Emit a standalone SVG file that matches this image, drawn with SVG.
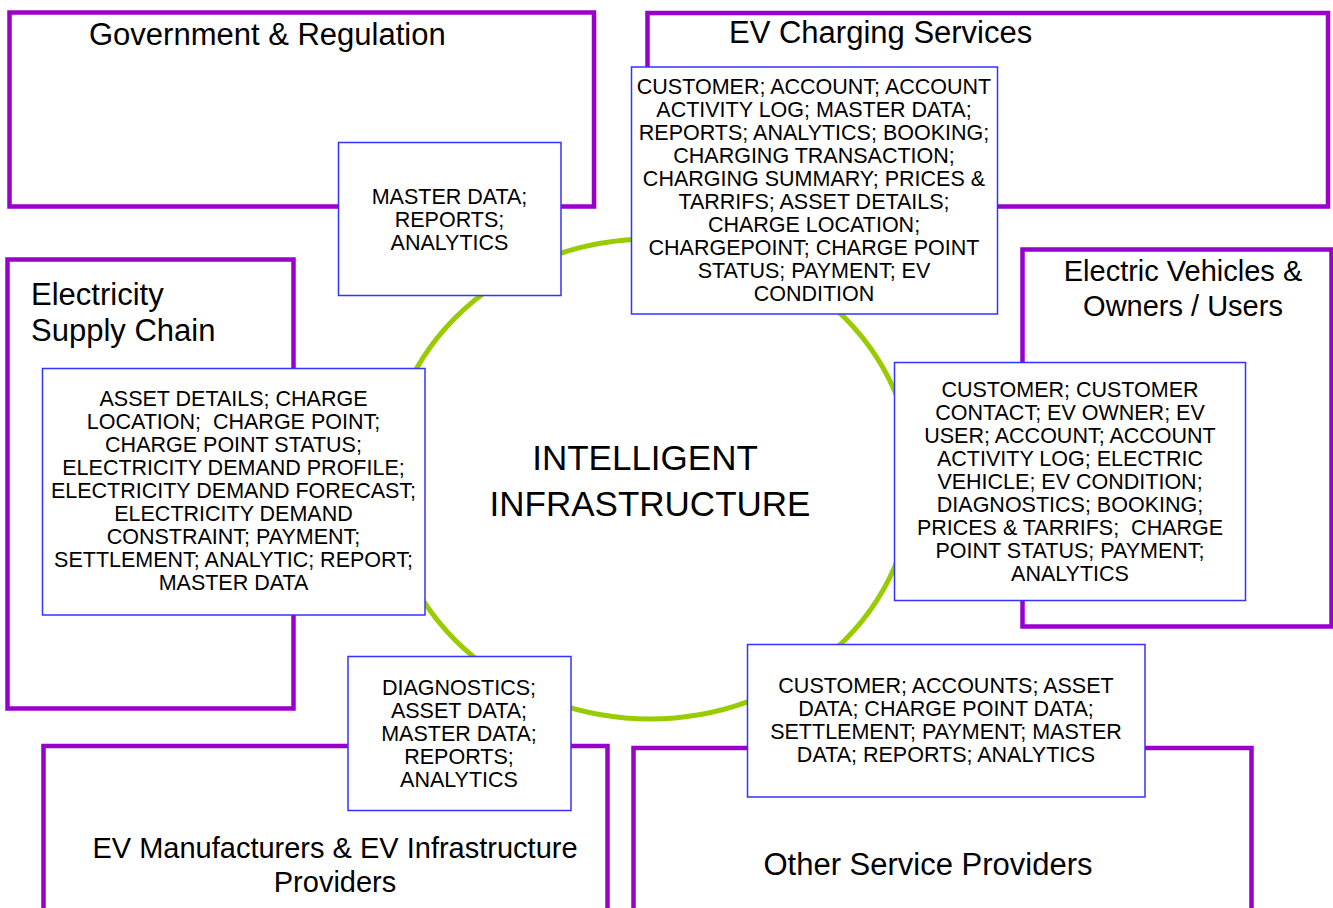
<svg xmlns="http://www.w3.org/2000/svg" width="1333" height="908" viewBox="0 0 1333 908">
<style>
.grp{fill:#fff;stroke:#9900cc;stroke-width:4.5}
.data{fill:#fff;stroke:#3333ff;stroke-width:1.5}
.title{font-family:"Liberation Sans",Arial,sans-serif;font-size:31px;fill:#000}
.t29{font-size:29px}
.dt{font-family:"Liberation Sans",Arial,sans-serif;font-size:21.5px;fill:#000;text-anchor:middle;white-space:pre}
.center{font-family:"Liberation Sans",Arial,sans-serif;font-size:35px;fill:#000;text-anchor:middle}
.ring{fill:none;stroke:#99cc00;stroke-width:5}
</style>
<rect width="1333" height="908" fill="#fff"/>
<g id="government">
<rect class="grp" x="9.5" y="12.5" width="584.5" height="194"/>
<text class="title" x="89" y="45">Government &amp; Regulation</text>
</g>
<g id="ev-charging-services">
<rect class="grp" x="647.5" y="13" width="680.5" height="193.5"/>
<text class="title" x="729" y="43">EV Charging Services</text>
</g>
<g id="electric-vehicles">
<rect class="grp" x="1022.5" y="249.5" width="309" height="377"/>
<text class="title t29" x="1183" y="281" text-anchor="middle">Electric Vehicles &amp;</text>
<text class="title t29" x="1183" y="316" text-anchor="middle">Owners / Users</text>
</g>
<g id="electricity-supply-chain">
<rect class="grp" x="7.5" y="259.5" width="286" height="449"/>
<text class="title" x="31" y="305">Electricity</text>
<text class="title" x="31" y="341">Supply Chain</text>
</g>
<g id="ev-manufacturers">
<rect class="grp" x="43.5" y="746" width="564" height="166"/>
<text class="title t29" x="335" y="858" text-anchor="middle">EV Manufacturers &amp; EV Infrastructure</text>
<text class="title t29" x="335" y="892" text-anchor="middle">Providers</text>
</g>
<g id="other-service-providers">
<rect class="grp" x="633.5" y="748" width="618" height="164"/>
<text class="title" x="928" y="875" text-anchor="middle">Other Service Providers</text>
</g>
<g id="connectors">
<ellipse class="ring" cx="650" cy="479" rx="263" ry="240"/>
</g>
<g id="intelligent-infrastructure">
<text class="center" x="645" y="470">INTELLIGENT</text>
<text class="center" x="650" y="516">INFRASTRUCTURE</text>
</g>
<g id="data-government">
<rect class="data" x="338.5" y="142.5" width="222.5" height="153"/>
<text class="dt" x="449.5" y="204">MASTER DATA;</text>
<text class="dt" x="449.5" y="227">REPORTS;</text>
<text class="dt" x="449.5" y="250">ANALYTICS</text>
</g>
<g id="data-charging">
<rect class="data" x="631.5" y="67" width="366" height="247"/>
<text class="dt" x="814" y="94">CUSTOMER; ACCOUNT; ACCOUNT</text>
<text class="dt" x="814" y="117">ACTIVITY LOG; MASTER DATA;</text>
<text class="dt" x="814" y="140">REPORTS; ANALYTICS; BOOKING;</text>
<text class="dt" x="814" y="163">CHARGING TRANSACTION;</text>
<text class="dt" x="814" y="186">CHARGING SUMMARY; PRICES &amp;</text>
<text class="dt" x="814" y="209">TARRIFS; ASSET DETAILS;</text>
<text class="dt" x="814" y="232">CHARGE LOCATION;</text>
<text class="dt" x="814" y="255">CHARGEPOINT; CHARGE POINT</text>
<text class="dt" x="814" y="278">STATUS; PAYMENT; EV</text>
<text class="dt" x="814" y="301">CONDITION</text>
</g>
<g id="data-electric-vehicles">
<rect class="data" x="894.5" y="362.5" width="351" height="238"/>
<text class="dt" x="1070" y="397">CUSTOMER; CUSTOMER</text>
<text class="dt" x="1070" y="420">CONTACT; EV OWNER; EV</text>
<text class="dt" x="1070" y="443">USER; ACCOUNT; ACCOUNT</text>
<text class="dt" x="1070" y="466">ACTIVITY LOG; ELECTRIC</text>
<text class="dt" x="1070" y="489">VEHICLE; EV CONDITION;</text>
<text class="dt" x="1070" y="512">DIAGNOSTICS; BOOKING;</text>
<text class="dt" x="1070" y="535" xml:space="preserve">PRICES &amp; TARRIFS;  CHARGE</text>
<text class="dt" x="1070" y="558">POINT STATUS; PAYMENT;</text>
<text class="dt" x="1070" y="581">ANALYTICS</text>
</g>
<g id="data-electricity">
<rect class="data" x="42.5" y="368.5" width="382.5" height="246.5"/>
<text class="dt" x="233.5" y="406">ASSET DETAILS; CHARGE</text>
<text class="dt" x="233.5" y="429" xml:space="preserve">LOCATION;  CHARGE POINT;</text>
<text class="dt" x="233.5" y="452">CHARGE POINT STATUS;</text>
<text class="dt" x="233.5" y="475">ELECTRICITY DEMAND PROFILE;</text>
<text class="dt" x="233.5" y="498">ELECTRICITY DEMAND FORECAST;</text>
<text class="dt" x="233.5" y="521">ELECTRICITY DEMAND</text>
<text class="dt" x="233.5" y="544">CONSTRAINT; PAYMENT;</text>
<text class="dt" x="233.5" y="567">SETTLEMENT; ANALYTIC; REPORT;</text>
<text class="dt" x="233.5" y="590">MASTER DATA</text>
</g>
<g id="data-manufacturers">
<rect class="data" x="348" y="656.5" width="223" height="154"/>
<text class="dt" x="459" y="695">DIAGNOSTICS;</text>
<text class="dt" x="459" y="718">ASSET DATA;</text>
<text class="dt" x="459" y="741">MASTER DATA;</text>
<text class="dt" x="459" y="764">REPORTS;</text>
<text class="dt" x="459" y="787">ANALYTICS</text>
</g>
<g id="data-other-services">
<rect class="data" x="747.5" y="644.5" width="397.5" height="152.5"/>
<text class="dt" x="946" y="693">CUSTOMER; ACCOUNTS; ASSET</text>
<text class="dt" x="946" y="716">DATA; CHARGE POINT DATA;</text>
<text class="dt" x="946" y="739">SETTLEMENT; PAYMENT; MASTER</text>
<text class="dt" x="946" y="762">DATA; REPORTS; ANALYTICS</text>
</g>
</svg>
